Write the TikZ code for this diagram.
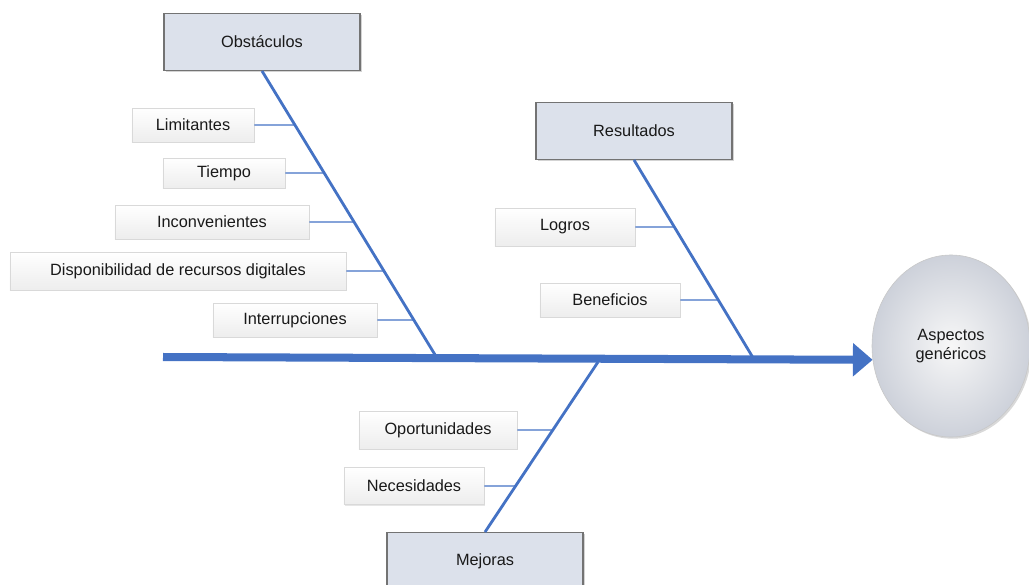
\documentclass[tikz,border=0pt]{standalone}
\usepackage{fontspec}
\setmainfont{Liberation Sans}
\usetikzlibrary{arrows.meta,shapes.geometric,shadows}

\definecolor{bonecol}{HTML}{4472C4}
\definecolor{headfill}{HTML}{DCE1EB}
\definecolor{goalrim}{HTML}{CDD1DA}

\begin{document}
\begin{tikzpicture}[x=0.025cm,y=-0.025cm,
  every node/.style={font=\fontsize{11.6pt}{14pt}\selectfont, text=black!90},
  head/.style={draw=black!55, line width=0.8pt, fill=headfill,
    minimum width=4.9cm, minimum height=1.42cm,
    drop shadow={shadow xshift=1.2pt, shadow yshift=-1.2pt, opacity=0.35}},
  cause/.style={draw=black!15, top color=white, bottom color=black!7,
    minimum height=0.85cm,
    drop shadow={shadow xshift=1pt, shadow yshift=-1pt, opacity=0.2}},
  goal/.style={ellipse, draw=black!22, inner color=black!3, outer color=goalrim,
    minimum width=3.95cm, minimum height=4.55cm, align=center,
    drop shadow={shadow xshift=1.2pt, shadow yshift=-1.2pt, opacity=0.3}},
  bone/.style={draw=bonecol, line width=2pt},
  twig/.style={draw=bonecol, line width=0.8pt}]

  \useasboundingbox (0,0) rectangle (1029,584);

  % Main categories and the effect
  \node[head] (obs) at (262,42) {Obstáculos};
  \node[head] (res) at (634,131) {Resultados};
  \node[head] (mej) at (485,561) {Mejoras};
  \node[goal] (asp) at (951,346) {Aspectos\\genéricos};

  % Spine and where the bones meet it
  \coordinate (tail) at (163,357);
  \coordinate (o0) at (437,358);
  \coordinate (r0) at (755,361);
  \coordinate (m0) at (598,362);
  \draw[bonecol, line width=5.7pt, -{Triangle[length=14pt,width=23pt]}] (tail) -- (asp.190);

  % Bones
  \draw[bone] (obs.south) -- (o0);
  \draw[bone] (res.south) -- (r0);
  \draw[bone] (mej.north) -- (m0);

  % Causes for Obstaculos
  \node[cause, minimum width=3.05cm] (lim) at (193,125) {Limitantes};
  \node[cause, minimum width=3.05cm, minimum height=0.75cm] (tie) at (224,173) {Tiempo};
  \node[cause, minimum width=4.85cm] (inc) at (212,222) {Inconvenientes};
  \node[cause, minimum width=8.4cm, minimum height=0.95cm] (dis) at (178,271) {Disponibilidad de recursos digitales};
  \node[cause, minimum width=4.1cm] (int) at (295,320) {Interrupciones};

  % Causes for Resultados
  \node[cause, minimum width=3.5cm, minimum height=0.95cm] (log) at (565,227) {Logros};
  \node[cause, minimum width=3.5cm] (ben) at (610,300) {Beneficios};

  % Causes for Mejoras
  \node[cause, minimum width=3.95cm, minimum height=0.95cm] (opo) at (438,430) {Oportunidades};
  \node[cause, minimum width=3.5cm, minimum height=0.92cm] (nec) at (414,486) {Necesidades};

  % Points on the bones level with each cause
  \coordinate (l1) at (intersection of obs.south--o0 and lim.west--lim.east);
  \coordinate (l2) at (intersection of obs.south--o0 and tie.west--tie.east);
  \coordinate (l3) at (intersection of obs.south--o0 and inc.west--inc.east);
  \coordinate (l4) at (intersection of obs.south--o0 and dis.west--dis.east);
  \coordinate (l5) at (intersection of obs.south--o0 and int.west--int.east);
  \coordinate (r1) at (intersection of res.south--r0 and log.west--log.east);
  \coordinate (r2) at (intersection of res.south--r0 and ben.west--ben.east);
  \coordinate (m1) at (intersection of mej.north--m0 and opo.west--opo.east);
  \coordinate (m2) at (intersection of mej.north--m0 and nec.west--nec.east);

  % Twigs
  \draw[twig] (lim) -- (l1);
  \draw[twig] (tie) -- (l2);
  \draw[twig] (inc) -- (l3);
  \draw[twig] (dis) -- (l4);
  \draw[twig] (int) -- (l5);
  \draw[twig] (log) -- (r1);
  \draw[twig] (ben) -- (r2);
  \draw[twig] (opo) -- (m1);
  \draw[twig] (nec) -- (m2);

\end{tikzpicture}
\end{document}
